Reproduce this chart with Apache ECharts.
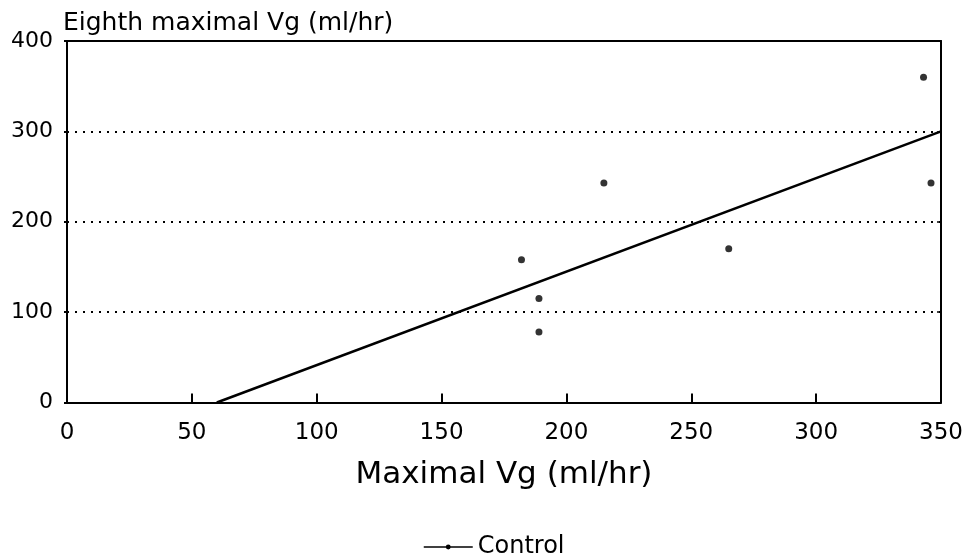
<!DOCTYPE html>
<html>
<head>
<meta charset="utf-8">
<script src="https://cdn.jsdelivr.net/npm/echarts@6/dist/echarts.min.js"></script>
<style>html,body{margin:0;padding:0;background:#fff;}#c{width:968px;height:558px;}</style>
</head>
<body>
<div id="c"></div>
<script>
// Data
var seriesName = 'Control';
var pointsX = [182, 189, 189, 215, 265, 343, 346];
var pointsY = [158, 115, 78, 243, 170, 360, 243];
var fitX = [60, 350];
var fitY = [0, 300];
var xTicks = [0, 50, 100, 150, 200, 250, 300, 350];
var yTicks = [0, 100, 200, 300, 400];
var xTitle = 'Maximal Vg (ml/hr)';
var yTitle = 'Eighth maximal Vg (ml/hr)';

var FONT = 'DejaVu Sans';
var chart = echarts.init(document.getElementById('c'), null, {renderer: 'canvas'});
var scatterData = pointsX.map(function (x, i) { return [x, pointsY[i]]; });
var fitData = fitX.map(function (x, i) { return [x, fitY[i]]; });

chart.setOption({
  animation: false,
  backgroundColor: '#fff',
  grid: {left: 67, right: 27, top: 41, bottom: 155.5, containLabel: false},
  legend: {
    data: [seriesName],
    left: 418, top: 530,
    itemWidth: 49, itemHeight: 6, itemGap: 9,
    lineStyle: {width: 1.5},
    textStyle: {fontFamily: FONT, fontSize: 24, color: '#000'}
  },
  xAxis: [{
    type: 'value', min: xTicks[0], max: xTicks[xTicks.length - 1], interval: 50,
    name: xTitle, nameLocation: 'middle', nameGap: 57,
    nameTextStyle: {fontFamily: FONT, fontSize: 31, color: '#000'},
    axisLine: {show: true, lineStyle: {color: '#000', width: 2}},
    axisTick: {show: true, inside: true, length: 9, lineStyle: {color: '#000', width: 2}},
    axisLabel: {margin: 19, fontFamily: FONT, fontSize: 23, color: '#000'},
    splitLine: {show: false}
  }, {
    type: 'value', position: 'top', min: xTicks[0], max: xTicks[xTicks.length - 1], interval: 50,
    axisLine: {show: true, onZero: false, lineStyle: {color: '#000', width: 2}},
    axisTick: {show: false}, axisLabel: {show: false}, splitLine: {show: false}
  }],
  yAxis: [{
    type: 'value', min: yTicks[0], max: yTicks[yTicks.length - 1], interval: 100,
    name: yTitle, nameLocation: 'end', nameGap: 18,
    nameTextStyle: {fontFamily: FONT, fontSize: 25, color: '#000', align: 'left', verticalAlign: 'middle', padding: [0, 0, 0, -4]},
    axisLine: {show: true, lineStyle: {color: '#000', width: 2}},
    axisTick: {show: true, length: 3, lineStyle: {color: '#000', width: 2}},
    axisLabel: {margin: 14, fontFamily: FONT, fontSize: 22, color: '#000', padding: [6, 0, 0, 0]},
    splitLine: {show: true, lineStyle: {color: '#000', width: 2, type: [2, 6]}}
  }, {
    type: 'value', position: 'right', min: yTicks[0], max: yTicks[yTicks.length - 1], interval: 100,
    axisLine: {show: true, onZero: false, lineStyle: {color: '#000', width: 2}},
    axisTick: {show: true, inside: true, length: 4, lineStyle: {color: '#000', width: 1.5}},
    axisLabel: {show: false}, splitLine: {show: false}
  }],
  series: [{
    name: seriesName, type: 'line', data: fitData,
    xAxisIndex: 0, yAxisIndex: 0,
    symbol: 'circle', symbolSize: 5, showSymbol: false,
    lineStyle: {color: '#000', width: 2.5},
    itemStyle: {color: '#000'}
  }, {
    name: seriesName, type: 'scatter', data: scatterData,
    xAxisIndex: 0, yAxisIndex: 0,
    symbol: 'circle', symbolSize: 7,
    itemStyle: {color: '#000'}
  }]
});
</script>
</body>
</html>
